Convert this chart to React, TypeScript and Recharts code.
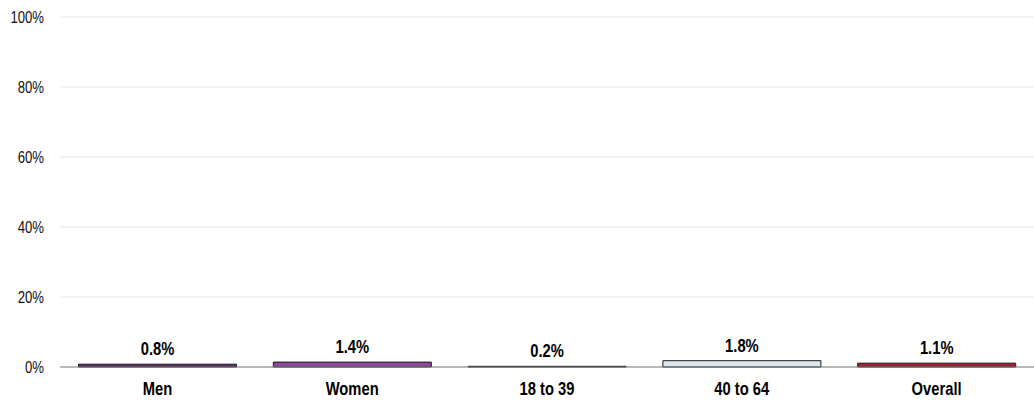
import { BarChart, Bar, XAxis, YAxis, CartesianGrid, Cell, LabelList } from 'recharts'

const categories = ['Men', 'Women', '18 to 39', '40 to 64', 'Overall']
const values = [0.8, 1.4, 0.2, 1.8, 1.1]
const barColors = ['#5c2d68', '#8a4a9a', '#2a1f2a', '#dbe8ee', '#9e1f34']
const yTicks = [0, 20, 40, 60, 80, 100]

const data = categories.map((name, i) => ({ name, value: values[i] }))

const font = '"Liberation Sans", Arial, sans-serif'
// no narrow face installed, so squeeze the text horizontally
const squeeze = 0.82

function XTick({ x, y, payload }: any) {
  return (
    <text
      transform={`translate(${x},${y}) scale(${squeeze},1)`}
      textAnchor="middle"
      dy="0.71em"
      fill="#000"
      fontSize={18}
      fontWeight="bold"
      fontFamily={font}
    >
      {payload.value}
    </text>
  )
}

function YTick({ x, y, payload }: any) {
  return (
    <text
      transform={`translate(${x},${y}) scale(${squeeze},1)`}
      textAnchor="end"
      dy="0.355em"
      fill="#111"
      fontSize={16}
      fontFamily={font}
    >
      {`${payload.value}%`}
    </text>
  )
}

function ValueLabel({ x, y, width, value }: any) {
  const cx = Number(x) + Number(width) / 2
  return (
    <text
      transform={`translate(${cx},${Number(y) - 9}) scale(${squeeze},1)`}
      textAnchor="middle"
      fill="#000"
      fontSize={18}
      fontWeight="bold"
      fontFamily={font}
    >
      {`${Number(value).toFixed(1)}%`}
    </text>
  )
}

export default function App() {
  return (
    <div style={{ position: 'absolute', left: 0, top: 0, background: '#fff' }}>
      <BarChart
        width={1034}
        height={403}
        data={data}
        margin={{ top: 17, right: 0, bottom: 0, left: 0 }}
        barCategoryGap="9.5%"
      >
        <CartesianGrid vertical={false} stroke="#e6e6e6" />
        <XAxis
          dataKey="name"
          height={36}
          axisLine={{ stroke: '#7f7f7f' }}
          tickLine={false}
          tickMargin={9}
          tick={<XTick />}
        />
        <YAxis
          width={60}
          domain={[0, 100]}
          ticks={yTicks}
          axisLine={false}
          tickLine={false}
          tickMargin={10}
          tick={<YTick />}
        />
        <Bar dataKey="value" stroke="#1a1a1a" strokeWidth={1} isAnimationActive={false}>
          {data.map((d, i) => (
            <Cell key={d.name} fill={barColors[i]} />
          ))}
          <LabelList dataKey="value" content={<ValueLabel />} />
        </Bar>
      </BarChart>
    </div>
  )
}
